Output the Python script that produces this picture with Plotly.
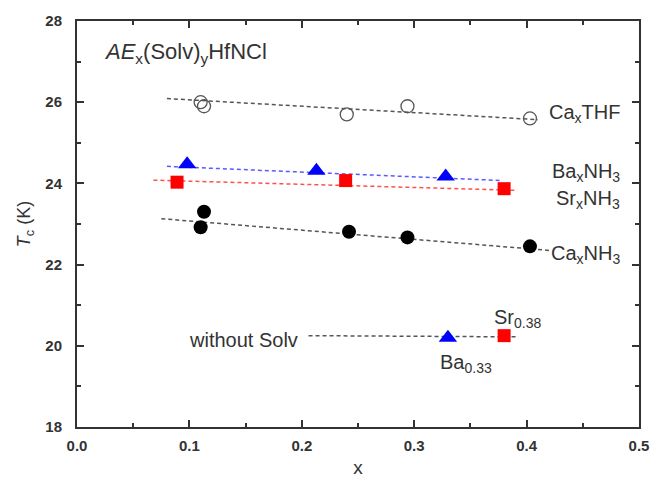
import plotly.graph_objects as go

# --- data ---
ca_thf_x = [0.110, 0.113, 0.240, 0.294, 0.403]
ca_thf_y = [26.00, 25.90, 25.70, 25.90, 25.60]
ca_thf_fit_x = [0.080, 0.410]
ca_thf_fit_y = [26.09, 25.57]

ba_nh3_x = [0.098, 0.213, 0.328]
ba_nh3_y = [24.47, 24.31, 24.17]
ba_nh3_fit_x = [0.080, 0.378]
ba_nh3_fit_y = [24.42, 24.07]

sr_nh3_x = [0.089, 0.239, 0.380]
sr_nh3_y = [24.03, 24.07, 23.87]
sr_nh3_fit_x = [0.068, 0.390]
sr_nh3_fit_y = [24.08, 23.83]

ca_nh3_x = [0.113, 0.110, 0.242, 0.294, 0.403]
ca_nh3_y = [23.30, 22.92, 22.81, 22.67, 22.45]
ca_nh3_fit_x = [0.075, 0.420]
ca_nh3_fit_y = [23.13, 22.35]

nosolv_ba_x = [0.330]
nosolv_ba_y = [20.20]
nosolv_sr_x = [0.380]
nosolv_sr_y = [20.25]
nosolv_fit_x = [0.206, 0.392]
nosolv_fit_y = [20.25, 20.22]

x_ticks = [0.0, 0.1, 0.2, 0.3, 0.4, 0.5]
y_ticks = [18, 20, 22, 24, 26, 28]

GRAY = "#555555"
fig = go.Figure()

def fit(xs, ys, color):
    fig.add_trace(go.Scatter(x=xs, y=ys, mode="lines",
                             line=dict(color=color, width=1.5, dash="4px,3px"),
                             showlegend=False, hoverinfo="skip"))

fit(ca_thf_fit_x, ca_thf_fit_y, GRAY)
fit(ba_nh3_fit_x, ba_nh3_fit_y, "#5a5aff")
fit(sr_nh3_fit_x, sr_nh3_fit_y, "#ff5050")
fit(ca_nh3_fit_x, ca_nh3_fit_y, GRAY)
fit(nosolv_fit_x, nosolv_fit_y, GRAY)

fig.add_trace(go.Scatter(x=ca_thf_x, y=ca_thf_y, mode="markers",
                         marker=dict(symbol="circle-open", size=13, color="#555555",
                                     line=dict(width=1.3)), showlegend=False))
fig.add_trace(go.Scatter(x=ba_nh3_x, y=ba_nh3_y, mode="markers",
                         marker=dict(symbol="triangle-up", size=16, color="#0000ff"),
                         showlegend=False))
fig.add_trace(go.Scatter(x=sr_nh3_x, y=sr_nh3_y, mode="markers",
                         marker=dict(symbol="square", size=13, color="#ff0000"),
                         showlegend=False))
fig.add_trace(go.Scatter(x=ca_nh3_x, y=ca_nh3_y, mode="markers",
                         marker=dict(symbol="circle", size=14, color="#000000"),
                         showlegend=False))
fig.add_trace(go.Scatter(x=nosolv_ba_x, y=nosolv_ba_y, mode="markers",
                         marker=dict(symbol="triangle-up", size=16, color="#0000ff"),
                         showlegend=False))
fig.add_trace(go.Scatter(x=nosolv_sr_x, y=nosolv_sr_y, mode="markers",
                         marker=dict(symbol="square", size=13, color="#ff0000"),
                         showlegend=False))

FONT = "Liberation Sans, Arial, sans-serif"
TXT = "#333333"

def label(x, y, text, xanchor="left", size=20):
    fig.add_annotation(x=x, y=y, xref="x", yref="y", text=text, showarrow=False,
                       xanchor=xanchor, yanchor="middle",
                       font=dict(family=FONT, size=size, color=TXT))

label(0.022, 27.22, "<i>AE</i><sub>x</sub>(Solv)<sub>y</sub>HfNCl", size=22)
label(0.418, 25.72, "Ca<sub>x</sub>THF")
label(0.421, 24.28, "Ba<sub>x</sub>NH<sub>3</sub>")
label(0.424, 23.60, "Sr<sub>x</sub>NH<sub>3</sub>")
label(0.420, 22.25, "Ca<sub>x</sub>NH<sub>3</sub>")
label(0.098, 20.15, "without Solv")
label(0.369, 20.68, "Sr<sub>0.38</sub>")
label(0.321, 19.57, "Ba<sub>0.33</sub>")

axis_common = dict(showline=True, linewidth=2, linecolor="#333333", mirror="ticks",
                   ticks="inside", ticklen=7, tickwidth=2, tickcolor="#333333",
                   showgrid=False, zeroline=False, automargin=False,
                   tickfont=dict(family=FONT, size=15, color=TXT, weight="bold"))

fig.update_xaxes(range=[0, 0.5], tickvals=x_ticks,
                 ticktext=[f"{v:.1f}" for v in x_ticks], ticklabelstandoff=4,
                 minor=dict(ticks="inside", ticklen=4, tickwidth=2, tickcolor="#333333", dtick=0.05),
                 title=dict(text="x", font=dict(family=FONT, size=19, color=TXT), standoff=8),
                 **axis_common)
fig.update_yaxes(range=[18, 28], tickvals=y_ticks, ticklabelstandoff=10,
                 minor=dict(ticks="inside", ticklen=4, tickwidth=2, tickcolor="#333333", dtick=1),
                 title=dict(text="<i>T</i><sub>c</sub> (K)", font=dict(family=FONT, size=18, color=TXT), standoff=10),
                 **axis_common)

fig.update_layout(width=652, height=484, plot_bgcolor="white", paper_bgcolor="white",
                  margin=dict(l=77, r=13, t=21, b=57), showlegend=False)

fig.write_html("out.html", config={"displayModeBar": False},
               post_script="document.body.style.margin='0';document.body.style.overflow='hidden';")
